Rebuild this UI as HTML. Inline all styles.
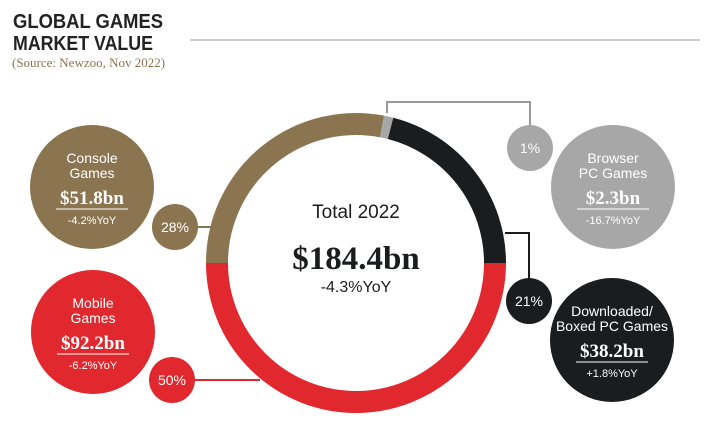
<!DOCTYPE html>
<html><head><meta charset="utf-8"><style>
body{margin:0;background:#fff;width:714px;height:441px;overflow:hidden}
text{font-family:"Liberation Sans",sans-serif}
.serif{font-family:"Liberation Serif",serif}
</style></head><body>
<svg width="714" height="441" viewBox="0 0 714 441">
<g>
<text x="13" y="28" font-size="20" font-weight="bold" fill="#222" textLength="150" lengthAdjust="spacingAndGlyphs">GLOBAL GAMES</text>
<text x="13" y="50" font-size="20" font-weight="bold" fill="#222" textLength="140" lengthAdjust="spacingAndGlyphs">MARKET VALUE</text>
<text x="12" y="67" class="serif" font-size="13" fill="#8a7550">(Source: Newzoo, Nov 2022)</text>
</g>
<line x1="190" y1="40" x2="700" y2="40" stroke="#bbb" stroke-width="1.5"/>
<g id="connectors" stroke-width="2" fill="none">
<polyline points="387,113 387,102 530,102 530,126" stroke="#999"/>
<polyline points="505,233 529,233 529,278" stroke="#1b1c1e"/>
<line x1="196" y1="227" x2="215" y2="227" stroke="#8a7550"/>
<line x1="194" y1="380" x2="260" y2="380" stroke="#e0282e"/>
</g>
<g id="ring"></g>
<g>
<text x="356" y="218" text-anchor="middle" font-size="19" fill="#1b1c1e">Total 2022</text>
<text x="356" y="269" text-anchor="middle" class="serif" font-size="33" font-weight="bold" fill="#1b1c1e">$184.4bn</text>
<text x="356" y="292" text-anchor="middle" font-size="16" fill="#1b1c1e">-4.3%YoY</text>
</g>
<g id="bubbles"></g>
</svg>
<script>
const categories=["Mobile Games","Console Games","Browser PC Games","Downloaded/Boxed PC Games"];
const shares=[50,28,1,21];
const values=["$92.2bn","$51.8bn","$2.3bn","$38.2bn"];
const yoy=["-6.2%YoY","-4.2%YoY","-16.7%YoY","+1.8%YoY"];
const colors=["#e0282e","#8a7550","#a7a7a7","#1b1c1e"];
const NS="http://www.w3.org/2000/svg";
const cx=356,cy=263,r=139,sw=22;
const ring=document.getElementById('ring');
const total=shares.reduce((a,b)=>a+b,0);
let a0=90; // degrees clockwise from 12 o'clock
function pt(deg,rr){const t=(deg-90)*Math.PI/180;return [cx+rr*Math.cos(t),cy+rr*Math.sin(t)];}
shares.forEach((s,i)=>{
 const a1=a0+s/total*360;
 const p0=pt(a0,r),p1=pt(a1,r);
 const large=(a1-a0)>180?1:0;
 const p=document.createElementNS(NS,'path');
 p.setAttribute('d',`M${p0[0]},${p0[1]} A${r},${r} 0 ${large} 1 ${p1[0]},${p1[1]}`);
 p.setAttribute('fill','none');p.setAttribute('stroke',colors[i]);p.setAttribute('stroke-width',sw);
 
 
 ring.appendChild(p);a0=a1;
});
const bubbles=document.getElementById('bubbles');
const big=[[93,332],[92,187],[613,187],[612,340]];
const small=[[172,380],[175,227],[530,148],[529,301]];
const labels=[["Mobile","Games"],["Console","Games"],["Browser","PC Games"],["Downloaded/","Boxed PC Games"]];
function txt(g,x,y,s,size,extra){const t=document.createElementNS(NS,'text');t.setAttribute('x',x);t.setAttribute('y',y);t.setAttribute('text-anchor','middle');t.setAttribute('font-size',size);t.setAttribute('fill','#fff');if(extra)for(const k in extra)t.setAttribute(k,extra[k]);t.textContent=s;g.appendChild(t);return t;}
categories.forEach((c,i)=>{
 const g=document.createElementNS(NS,'g');
 
 
 const [x,y]=big[i];
 const C=document.createElementNS(NS,'circle');C.setAttribute('cx',x);C.setAttribute('cy',y);C.setAttribute('r',62);C.setAttribute('fill',colors[i]);g.appendChild(C);
 txt(g,x,y-24,labels[i][0],14);txt(g,x,y-9,labels[i][1],14);
 txt(g,x,y+17,values[i],19,{'class':'serif','font-weight':'bold'});
 const L=document.createElementNS(NS,'line');L.setAttribute('x1',x-36);L.setAttribute('x2',x+36);L.setAttribute('y1',y+22);L.setAttribute('y2',y+22);L.setAttribute('stroke','#fff');L.setAttribute('stroke-width','1');g.appendChild(L);
 txt(g,x,y+37,yoy[i],11);
 bubbles.appendChild(g);
 const g2=document.createElementNS(NS,'g');
 
 
 const [sx,sy]=small[i];
 const S=document.createElementNS(NS,'circle');S.setAttribute('cx',sx);S.setAttribute('cy',sy);S.setAttribute('r',23);S.setAttribute('fill',colors[i]);g2.appendChild(S);
 txt(g2,sx,sy+5,shares[i]+'%',14);
 bubbles.appendChild(g2);
});
</script>
</body></html>
